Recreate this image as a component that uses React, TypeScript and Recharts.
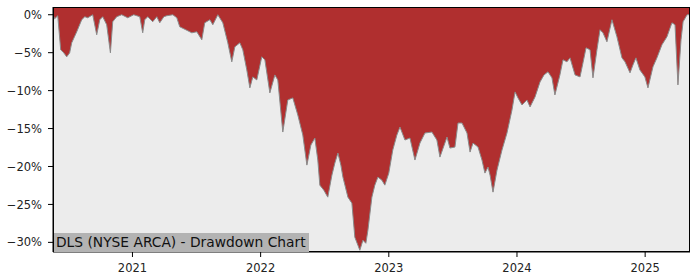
import React from "react";
import { AreaChart, Area, XAxis, YAxis, CartesianGrid } from "recharts";

const dates: number[] = [
  2020.380, 2020.393, 2020.417, 2020.440, 2020.464, 2020.487, 2020.510, 2020.526, 2020.565, 2020.604,
  2020.628, 2020.651, 2020.690, 2020.721, 2020.745, 2020.768, 2020.799, 2020.828, 2020.846, 2020.877,
  2020.916, 2020.963, 2021.010, 2021.057, 2021.080, 2021.096, 2021.119, 2021.158, 2021.190, 2021.213,
  2021.245, 2021.268, 2021.315, 2021.346, 2021.369, 2021.416, 2021.463, 2021.502, 2021.541, 2021.564,
  2021.604, 2021.627, 2021.666, 2021.705, 2021.744, 2021.775, 2021.799, 2021.838, 2021.861, 2021.892,
  2021.916, 2021.939, 2021.970, 2022.009, 2022.033, 2022.072, 2022.111, 2022.134, 2022.173, 2022.212,
  2022.251, 2022.290, 2022.329, 2022.361, 2022.392, 2022.423, 2022.446, 2022.462, 2022.493, 2022.524,
  2022.556, 2022.579, 2022.603, 2022.626, 2022.642, 2022.681, 2022.712, 2022.735, 2022.759, 2022.774,
  2022.798, 2022.821, 2022.837, 2022.868, 2022.891, 2022.915, 2022.946, 2022.969, 2023.000, 2023.031,
  2023.063, 2023.087, 2023.126, 2023.165, 2023.204, 2023.243, 2023.282, 2023.336, 2023.375, 2023.399,
  2023.454, 2023.477, 2023.516, 2023.540, 2023.571, 2023.610, 2023.634, 2023.657, 2023.696, 2023.727,
  2023.750, 2023.774, 2023.790, 2023.813, 2023.844, 2023.883, 2023.922, 2023.961, 2023.985, 2024.008,
  2024.039, 2024.078, 2024.102, 2024.141, 2024.180, 2024.211, 2024.242, 2024.273, 2024.296, 2024.335,
  2024.359, 2024.390, 2024.414, 2024.453, 2024.492, 2024.515, 2024.539, 2024.570, 2024.593, 2024.624,
  2024.648, 2024.671, 2024.702, 2024.741, 2024.780, 2024.819, 2024.843, 2024.882, 2024.905, 2024.928,
  2024.959, 2024.998, 2025.022, 2025.061, 2025.092, 2025.131, 2025.170, 2025.209, 2025.233, 2025.256,
  2025.280, 2025.296, 2025.327, 2025.350,
];

const drawdown: number[] = [
  0, -0.53, -0.13, -4.62, -5.02, -5.55, -5.02, -3.70, -2.25, -0.66,
  -0.26, -0.40, 0, -2.64, -0.66, -0.26, -1.32, -5.02, -0.92, -0.26,
  0, -0.40, 0, -0.26, -2.38, -0.66, -0.26, -0.92, -0.26, -1.06,
  -0.26, -0.13, 0, -0.40, -1.59, -1.98, -2.38, -2.25, -3.30, -1.06,
  -0.66, -1.32, 0, -1.06, -3.70, -6.21, -4.23, -3.70, -4.62, -7.27,
  -9.64, -8.19, -8.59, -5.55, -5.94, -10.30, -7.93, -8.59, -15.46, -11.23,
  -10.96, -13.21, -15.85, -19.82, -17.17, -16.25, -19.15, -22.46, -23.12, -24.04,
  -21.14, -19.55, -18.23, -19.82, -21.40, -24.04, -24.83, -29.33, -30.38, -31.04,
  -29.72, -30.12, -28.40, -24.04, -22.46, -21.40, -21.80, -22.46, -20.87, -17.83,
  -15.85, -14.80, -16.51, -16.25, -19.15, -16.91, -15.59, -15.46, -16.51, -18.76,
  -16.12, -17.57, -17.44, -14.27, -14.27, -15.59, -18.10, -16.91, -17.44, -19.15,
  -20.87, -20.08, -21.14, -23.38, -20.48, -17.83, -15.59, -12.55, -10.17, -10.96,
  -11.89, -11.23, -12.15, -10.83, -8.85, -7.93, -7.53, -8.32, -10.57, -7.93,
  -5.94, -6.21, -5.68, -7.93, -8.19, -6.34, -4.36, -4.62, -8.32, -4.62,
  -1.98, -2.38, -3.57, -0.66, -2.91, -5.68, -6.21, -7.66, -6.61, -5.68,
  -7.27, -8.19, -9.64, -6.87, -5.68, -3.96, -2.91, -1.06, -1.32, -9.25,
  -3.30, -0.92, 0, 0,
];

const yearTicks: number[] = [2021, 2022, 2023, 2024, 2025];
const pctTicks: number[] = [0, -5, -10, -15, -20, -25, -30];
const title = "DLS (NYSE ARCA) - Drawdown Chart";

const data = dates.map((t, i) => ({ t, dd: drawdown[i] }));

const Y_MAX = 1.02;
const Y_MIN = -31.27;
const X_MIN = 2020.38;
const X_MAX = 2025.35;

const fmtPct = (v: number) => (v < 0 ? `\u2212${-v}%` : `${v}%`);
const FONT = "'DejaVu Sans', sans-serif";

export default function App() {
  return (
    <div style={{ position: "absolute", left: 0, top: 0, width: 700, height: 280, background: "#fff" }}>
      <AreaChart width={700} height={280} data={data} margin={{ top: 7, right: 10, bottom: 0, left: 0 }}>
        <CartesianGrid horizontal={false} vertical={false} fill="#ececec" />
        <XAxis
          dataKey="t"
          type="number"
          domain={[X_MIN, X_MAX]}
          allowDataOverflow
          ticks={yearTicks}
          tickFormatter={(v: number) => String(v)}
          height={28}
          tickSize={5}
          tickMargin={7}
          stroke="#000"
          tick={{ fill: "#222", fontSize: 11.5, fontFamily: FONT }}
          tickLine={{ stroke: "#000" }}
          axisLine={{ stroke: "#000" }}
        />
        <YAxis
          type="number"
          domain={[Y_MIN, Y_MAX]}
          allowDataOverflow
          ticks={pctTicks}
          tickFormatter={fmtPct}
          width={53}
          tickSize={5}
          tickMargin={6}
          stroke="#000"
          tick={{ fill: "#222", fontSize: 11.5, fontFamily: FONT }}
          tickLine={{ stroke: "#000" }}
          axisLine={{ stroke: "#000" }}
        />
        <Area
          type="linear"
          dataKey="dd"
          baseValue={Y_MAX}
          fill="#b02f2f"
          fillOpacity={1}
          stroke="#8a8a8a"
          strokeWidth={1}
          isAnimationActive={false}
          dot={false}
          activeDot={false}
        />
      </AreaChart>
      <div
        style={{
          position: "absolute",
          left: 53,
          top: 7,
          width: 637,
          height: 245,
          boxSizing: "border-box",
          border: "1px solid #000",
          pointerEvents: "none",
        }}
      />
      <div
        style={{
          position: "absolute",
          left: 54,
          top: 233,
          height: 19,
          lineHeight: "19px",
          padding: "0 3px 0 2px",
          background: "#b3b3b3",
          fontFamily: FONT,
          fontSize: 13.8,
          color: "#111",
          whiteSpace: "nowrap",
        }}
      >
        {title}
      </div>
    </div>
  );
}
